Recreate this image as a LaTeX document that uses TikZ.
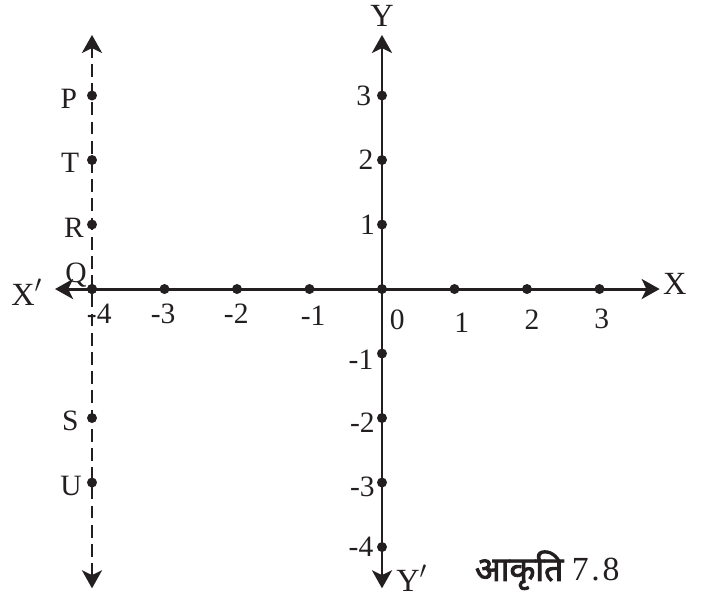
\documentclass[tikz,border=0pt]{standalone}
\usepackage{fontspec}
\setmainfont{Liberation Serif}
\newfontfamily\devfont[Script=Devanagari,FakeBold=2.5]{Noto Sans}
\usepackage{xcolor}
\usepackage{tikz}
\usetikzlibrary{arrows.meta}
\definecolor{ink}{HTML}{231F20}

\begin{document}
\begin{tikzpicture}[x=1.8125cm,y=1.6125cm,
        every node/.style={text=ink,font=\fontsize{21}{24}\selectfont},
        dot/.style={circle,fill=ink,inner sep=0pt,minimum size=2.5mm},
        axis/.style={draw=ink,line width=2.1pt,
            {Stealth[length=4.5mm,width=5mm,inset=1.2mm]}-{Stealth[length=4.5mm,width=5mm,inset=1.2mm]}}]
        \useasboundingbox (-5.269,-4.806) rectangle (4.538,4.481);
        % Ends of the axes
        \coordinate (xl) at (-4.51,0);
        \coordinate (xr) at (3.83,0);
        \coordinate (yt) at (0,3.94);
        \coordinate (yb) at (0,-4.64);
        \coordinate (lt) at (-4,3.94);
        \coordinate (lb) at (-4,-4.64);
        % Axes
        \draw[axis] (xl) -- (xr);
        \draw[axis] (yb) -- (yt);
        \draw[axis,dash pattern=on 0.32cm off 0.16cm] (lb) -- (lt);
        % Axis names
        \node[font=\fontsize{23}{26}\selectfont] (xn) at (-4.90,-0.05) {X$'$};
        \node[font=\fontsize{23}{26}\selectfont] (xp) at (4.04,0.08) {X};
        \node[font=\fontsize{23}{26}\selectfont] (yp) at (0,4.24) {Y};
        \node[font=\fontsize{23}{26}\selectfont] (yn) at (0.41,-4.48) {Y$'$};
        % Points on the x-axis
        \foreach \i/\n in {-4/xm4,-3/xm3,-2/xm2,-1/xm1,0/o,1/x1,2/x2,3/x3}
            \node[dot] (\n) at (\i,0) {};
        \node (lxm4) at (-3.90,-0.39) {-4};
        \node (lxm3) at (-3.02,-0.39) {-3};
        \node (lxm2) at (-2.01,-0.39) {-2};
        \node (lxm1) at (-0.95,-0.41) {-1};
        \node (lo) at (0.21,-0.47) {0};
        \node (lx1) at (1.10,-0.52) {1};
        \node (lx2) at (2.07,-0.47) {2};
        \node (lx3) at (3.03,-0.47) {3};
        % Points on the y-axis
        \foreach \j/\n in {3/y3,2/y2,1/y1,-1/ym1,-2/ym2,-3/ym3,-4/ym4}
            \node[dot] (\n) at (0,\j) {};
        \node (ly3) at (-0.25,3) {3};
        \node (ly2) at (-0.22,2) {2};
        \node (ly1) at (-0.20,1) {1};
        \node (lym1) at (-0.29,-1.09) {-1};
        \node (lym2) at (-0.27,-2.07) {-2};
        \node (lym3) at (-0.27,-3.06) {-3};
        \node (lym4) at (-0.29,-3.99) {-4};
        % Points on the dashed line
        \node[dot] (P) at (-4,3) {};
        \node[dot] (T) at (-4,2) {};
        \node[dot] (R) at (-4,1) {};
        \node[dot] (Q) at (-4,0) {};
        \node[dot] (S) at (-4,-2) {};
        \node[dot] (U) at (-4,-3) {};
        \node (lP) at (-4.32,2.95) {P};
        \node (lT) at (-4.30,1.95) {T};
        \node (lR) at (-4.25,0.95) {R};
        \node (lQ) at (-4.22,0.22) {Q};
        \node (lS) at (-4.30,-2.05) {S};
        \node (lU) at (-4.29,-3.05) {U};
        % Caption
        \node[font=\fontsize{24}{28}\selectfont] (cap) at (2.28,-4.36) {{\devfont आकृति}\ 7\kern2pt.\kern2pt8};
    \end{tikzpicture}
\end{document}
